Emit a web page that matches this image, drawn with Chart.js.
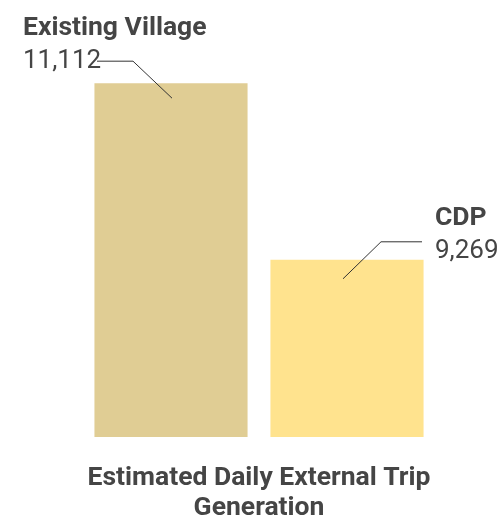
<!DOCTYPE html>
<html>
<head>
<meta charset="utf-8">
<script src="https://cdn.jsdelivr.net/npm/chart.js@4/dist/chart.umd.min.js"></script>
<style>
  html, body { margin: 0; padding: 0; background: #fff; }
  #wrap { width: 500px; height: 519px; position: relative; }
</style>
</head>
<body>
<div id="wrap"><canvas id="chart"></canvas></div>
<script>
// Data
const categories = ["Existing Village", "CDP"]
const tripValues = [11112, 9269]
const barColors = ["#e0cd94", "#ffe38e"]
const chartTitle = ["Estimated Daily External Trip", "Generation"]

// Leader line / label placement relative to the top-center of each bar
const leaders = [
  { anchor: [1, 15], elbow: [-38, -22], end: [-74, -22], textX: -148, valueY: -15, nameY: -48 },
  { anchor: [-4, 19], elbow: [34, -18], end: [75, -18], textX: 88, valueY: -2, nameY: -35 }
]

const TEXT_COLOR = "#454545"

const leaderLabels = {
  id: "leaderLabels",
  afterDatasetsDraw(chart) {
    const ctx = chart.ctx
    const meta = chart.getDatasetMeta(0)
    meta.data.forEach((bar, i) => {
      const cfg = leaders[i]
      const x = bar.x, y = bar.y
      ctx.save()
      ctx.strokeStyle = "#333"
      ctx.lineWidth = 1
      ctx.beginPath()
      ctx.moveTo(x + cfg.anchor[0], y + cfg.anchor[1])
      ctx.lineTo(x + cfg.elbow[0], y + cfg.elbow[1])
      ctx.lineTo(x + cfg.end[0], y + cfg.end[1])
      ctx.stroke()

      ctx.fillStyle = TEXT_COLOR
      ctx.textAlign = "left"
      ctx.textBaseline = "alphabetic"
      ctx.font = "bold 26.5px Roboto"
      ctx.fillText(categories[i], x + cfg.textX, y + cfg.nameY)
      ctx.font = "26px Roboto"
      ctx.fillText(tripValues[i].toLocaleString("en-US"), x + cfg.textX, y + cfg.valueY)
      ctx.restore()
    })
  }
}

new Chart(document.getElementById("chart"), {
  type: "bar",
  data: {
    labels: categories,
    datasets: [{
      data: tripValues,
      backgroundColor: barColors,
      borderWidth: 0,
      barPercentage: 0.87,
      categoryPercentage: 1
    }]
  },
  options: {
    responsive: true,
    maintainAspectRatio: false,
    animation: false,
    layout: {
      padding: { left: 83, right: 65, top: 0, bottom: 0 }
    },
    plugins: {
      legend: { display: false },
      tooltip: { enabled: false }
    },
    scales: {
      x: {
        grid: { display: false, drawTicks: false },
        border: { display: false },
        ticks: { display: false },
        title: {
          display: true,
          text: chartTitle,
          color: TEXT_COLOR,
          font: { family: "Roboto", size: 26.5, weight: "bold", lineHeight: 30 / 26.5 },
          padding: { top: 26, bottom: -4 }
        }
      },
      y: {
        display: false,
        min: 7420,
        max: 11980
      }
    }
  },
  plugins: [leaderLabels]
})
</script>
</body>
</html>
